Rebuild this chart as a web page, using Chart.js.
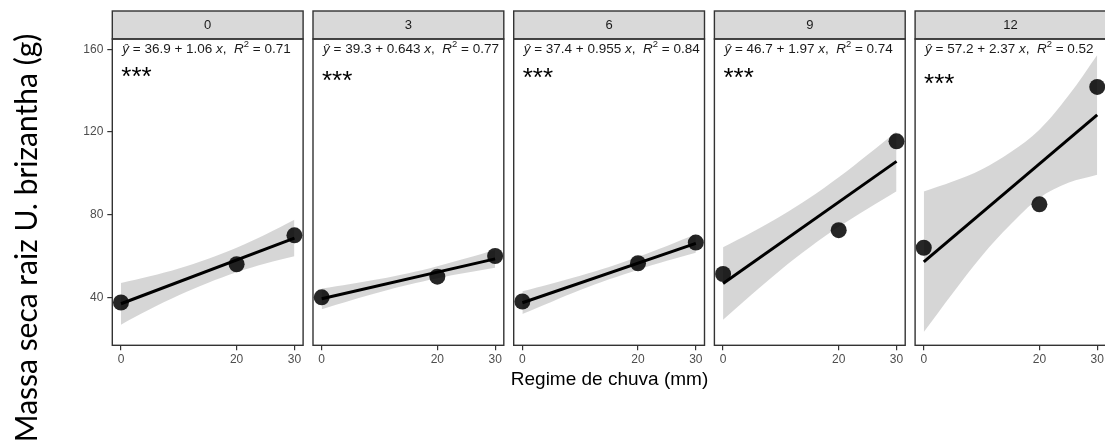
<!DOCTYPE html>
<html>
<head>
<meta charset="utf-8">
<script src="https://cdn.jsdelivr.net/npm/chart.js@4/dist/chart.umd.min.js"></script>
<style>
html,body{margin:0;padding:0;background:#fff;}
#wrap{position:relative;width:1105px;height:443px;background:#fff;overflow:hidden;}
#wrap canvas{position:absolute;left:0;top:0;}
</style>
</head>
<body>
<div id="wrap"></div>
<script>
// ---- data ----
const panelLabels = ['0', '3', '6', '9', '12'];
const xTicks = [0, 20, 30];
const yTicks = [40, 80, 120, 160];
const obsX = [0, 20, 30];
const obsP0 = [37.5, 56, 70];
const obsP3 = [40, 50, 60];
const obsP6 = [38, 56.5, 66.5];
const obsP9 = [51.3, 72.5, 115.5];
const obsP12 = [64, 85, 141.8];
const fitX = [0, 30];
const fitP0 = [36.9, 68.7];
const fitP3 = [39.3, 58.6];
const fitP6 = [37.4, 66.1];
const fitP9 = [46.7, 105.8];
const fitP12 = [57.2, 128.3];
const bandX = [0, 5, 10, 15, 20, 25, 30];
const upperP0 = [47.0, 50.2, 54.0, 58.6, 64.0, 70.4, 77.5];
const lowerP0 = [26.8, 34.2, 41.0, 47.0, 52.2, 56.4, 59.9];
const upperP3 = [44.3, 46.5, 48.9, 51.7, 55.1, 58.9, 62.9];
const lowerP3 = [34.3, 38.5, 42.5, 46.1, 49.3, 51.9, 54.3];
const upperP6 = [42.9, 46.6, 50.5, 54.7, 59.6, 64.9, 70.5];
const lowerP6 = [31.9, 37.8, 43.5, 48.7, 53.4, 57.7, 61.6];
const upperP9 = [64.2, 71.5, 79.4, 88.2, 98.1, 109.0, 120.3];
const lowerP9 = [29.2, 41.5, 53.4, 64.2, 74.1, 82.9, 91.3];
const upperP12 = [91.2, 96.0, 101.9, 110.2, 121.1, 137.5, 157.3];
const lowerP12 = [23.2, 42.0, 59.9, 75.2, 88.1, 95.4, 99.3];
const eqIntercept = ['36.9', '39.3', '37.4', '46.7', '57.2'];
const eqSlope = ['1.06', '0.643', '0.955', '1.97', '2.37'];
const eqR2 = ['0.71', '0.77', '0.84', '0.74', '0.52'];
const signif = ['***', '***', '***', '***', '***'];
const xTitle = 'Regime de chuva (mm)';
const yTitle = 'Massa seca raiz U. brizantha (g)';

const obs = [obsP0, obsP3, obsP6, obsP9, obsP12];
const fits = [fitP0, fitP3, fitP6, fitP9, fitP12];
const uppers = [upperP0, upperP3, upperP6, upperP9, upperP12];
const lowers = [lowerP0, lowerP3, lowerP6, lowerP9, lowerP12];

// ---- layout ----
const W = 1105, H = 443, CW = 1140;
const panelW = 190.8;
const panelLeft = [0,1,2,3,4].map(i => 112.3 + 200.7 * i);
const stripTop = 11, plotTop = 39, plotBottom = 345.3;
const starY = [70, 74, 71, 71, 77];
const AX = 'Liberation Sans, Arial, sans-serif';

function pairs(xs, ys){ return xs.map((x, k) => ({x: x, y: ys[k]})); }

function drawEq(ctx, x, y, i){
  const size = 13.5;
  const segs = [
    {t:'ŷ', it:true}, {t:' = ' + eqIntercept[i] + ' + ' + eqSlope[i] + ' '},
    {t:'x', it:true}, {t:',  '}, {t:'R', it:true}, {t:'2', sup:true}, {t:' = ' + eqR2[i]}
  ];
  ctx.textBaseline = 'middle';
  ctx.textAlign = 'left';
  ctx.fillStyle = '#1a1a1a';
  let cx = x;
  for (const s of segs){
    const fs = s.sup ? size * 0.7 : size;
    ctx.font = (s.it ? 'italic ' : '') + fs + 'px ' + AX;
    ctx.fillText(s.t, cx, s.sup ? y - size * 0.38 : y);
    cx += ctx.measureText(s.t).width;
  }
}

const deco = {
  id: 'deco',
  beforeDraw(chart, args, o){
    const ctx = chart.ctx, a = chart.chartArea, i = o.idx;
    ctx.save();
    ctx.fillStyle = '#d9d9d9';
    ctx.fillRect(a.left, stripTop, a.right - a.left, a.top - stripTop);
    ctx.strokeStyle = '#333333';
    ctx.lineWidth = 1.4;
    ctx.strokeRect(a.left, stripTop, a.right - a.left, a.top - stripTop);
    ctx.fillStyle = '#1a1a1a';
    ctx.font = '13px ' + AX;
    ctx.textAlign = 'center';
    ctx.textBaseline = 'middle';
    ctx.fillText(panelLabels[i], (a.left + a.right) / 2, (stripTop + a.top) / 2 + 0.5);
    ctx.restore();
  },
  afterDraw(chart, args, o){
    const ctx = chart.ctx, a = chart.chartArea, i = o.idx;
    ctx.save();
    ctx.strokeStyle = '#333333';
    ctx.lineWidth = 1.4;
    ctx.strokeRect(a.left, a.top, a.right - a.left, a.bottom - a.top);
    drawEq(ctx, a.left + 10, 49.5, i);
    ctx.font = '26px ' + AX;
    ctx.fillStyle = '#000';
    ctx.textBaseline = 'alphabetic';
    ctx.textAlign = 'left';
    ctx.fillText(signif[i], a.left + 9, starY[i] + 0.57 * 26);
    if (i === 2){
      ctx.font = '19px ' + AX;
      ctx.textAlign = 'center';
      ctx.textBaseline = 'middle';
      ctx.fillText(xTitle, 609.5, 380);
    }
    if (i === 0){
      ctx.translate(27, 238);
      ctx.rotate(-Math.PI / 2);
      ctx.font = '30px Lato, "Open Sans", sans-serif';
      ctx.textAlign = 'center';
      ctx.textBaseline = 'middle';
      ctx.fillStyle = '#000';
      ctx.fillText(yTitle, 0, 0);
    }
    ctx.restore();
  }
};

const wrap = document.getElementById('wrap');
for (let i = 0; i < 5; i++){
  const holder = document.createElement('div');
  holder.style.cssText = 'position:absolute;left:0;top:0;width:' + CW + 'px;height:' + H + 'px;';
  const cv = document.createElement('canvas');
  holder.appendChild(cv);
  wrap.appendChild(holder);
  const showY = i === 0;
  new Chart(cv, {
    type: 'line',
    data: {
      datasets: [
        {data: pairs(bandX, uppers[i]), borderWidth: 0, pointRadius: 0, fill: false, tension: 0.35, order: 2},
        {data: pairs(bandX, lowers[i]), borderWidth: 0, pointRadius: 0, fill: '-1', backgroundColor: 'rgba(153,153,153,0.4)', tension: 0.35, order: 2},
        {data: pairs(fitX, fits[i]), borderColor: '#000', borderWidth: 3, pointRadius: 0, fill: false, order: 1},
        {type: 'scatter', data: pairs(obsX, obs[i]), pointRadius: 8, pointHoverRadius: 8, backgroundColor: 'rgba(0,0,0,0.85)', borderWidth: 0, order: 0}
      ]
    },
    options: {
      responsive: true, maintainAspectRatio: false, animation: false,
      events: [],
      layout: {padding: {top: plotTop, bottom: 0, left: 0, right: CW - (panelLeft[i] + panelW)}},
      plugins: {legend: {display: false}, tooltip: {enabled: false}, deco: {idx: i}},
      scales: {
        x: {
          type: 'linear', min: -1.5, max: 31.5,
          afterBuildTicks: s => { s.ticks = xTicks.map(v => ({value: v})); },
          afterFit: s => { s.height = H - plotBottom; },
          border: {display: false},
          grid: {display: true, drawOnChartArea: false, drawTicks: true, tickLength: 5, color: '#333333', lineWidth: 1.2},
          ticks: {font: {family: AX, size: 12}, color: '#4d4d4d', padding: 2, maxRotation: 0, autoSkip: false}
        },
        y: {
          type: 'linear', min: 16.8, max: 165,
          afterBuildTicks: s => { s.ticks = yTicks.map(v => ({value: v})); },
          afterFit: s => { s.width = panelLeft[i]; },
          border: {display: false},
          grid: {display: showY, drawOnChartArea: false, drawTicks: true, tickLength: 5, color: '#333333', lineWidth: 1.2},
          ticks: {display: showY, font: {family: AX, size: 12}, color: '#4d4d4d', padding: 4}
        }
      }
    },
    plugins: [deco]
  });
}
</script>
</body>
</html>
